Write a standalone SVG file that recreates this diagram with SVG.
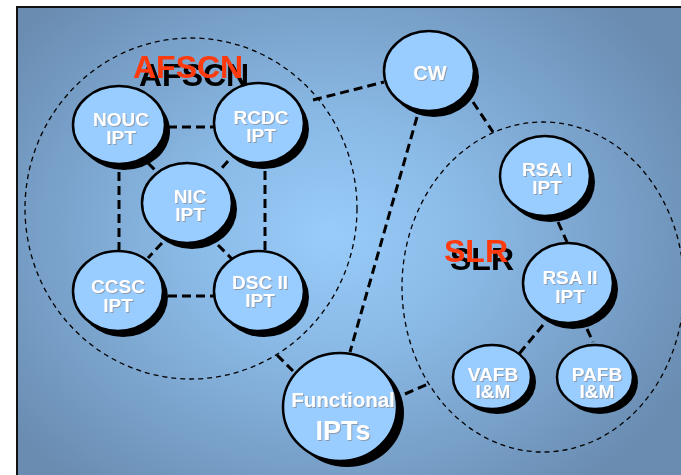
<svg xmlns="http://www.w3.org/2000/svg" width="681" height="475" viewBox="0 0 681 475">
<defs>
<radialGradient id="bg" gradientUnits="userSpaceOnUse" cx="330" cy="235" r="400" gradientTransform="translate(330 235) scale(1 0.8) translate(-330 -235)">
<stop offset="0" stop-color="#99ccfa"/>
<stop offset="0.4" stop-color="#88b7e3"/>
<stop offset="1" stop-color="#6a8cb1"/>
</radialGradient>
<filter id="tsh" x="-10%" y="-20%" width="130%" height="150%">
<feDropShadow dx="1" dy="1" stdDeviation="0" flood-color="#8a9bb0"/>
</filter>
<filter id="lsh" x="-10%" y="-20%" width="130%" height="160%">
<feDropShadow dx="6" dy="8" stdDeviation="0" flood-color="#000"/>
</filter>
<style>
.sh{fill:#000}
.nd{fill:#99ccff;stroke:#000;stroke-width:2.5}
.t{font-family:"Liberation Sans",Arial,sans-serif;font-weight:bold;font-size:19px;text-anchor:middle;fill:#fff;filter:url(#tsh)}
.big{fill:none;stroke:#000;stroke-width:1.3;stroke-dasharray:5,4}
.c{stroke:#000;stroke-width:3;stroke-dasharray:9,5;fill:none}
.lr{font-family:"Liberation Sans",Arial,sans-serif;font-weight:bold;font-size:32px;fill:#ff3a10;filter:url(#lsh)}
</style>
</defs>
<rect x="0" y="0" width="681" height="475" fill="#fff"/>
<rect x="17" y="7" width="700" height="500" fill="url(#bg)" stroke="#111" stroke-width="2"/>

<g id="groups">
<ellipse class="big" cx="191" cy="208.5" rx="166" ry="170.5"/>
<ellipse class="big" cx="543" cy="287" rx="141" ry="165"/>
</g>

<g id="labels">
<text class="lr" x="133" y="78">AFSCN</text>
<text class="lr" x="444" y="262">SLR</text>
</g>

<g id="connectors">
<line class="c" x1="168" y1="127" x2="213" y2="127"/>
<line class="c" x1="119" y1="172" x2="119" y2="251"/>
<line class="c" x1="265" y1="171" x2="265" y2="251"/>
<line class="c" x1="168" y1="296" x2="214" y2="296"/>
<line class="c" x1="148" y1="163" x2="158" y2="173"/>
<line class="c" x1="228" y1="161" x2="221" y2="169"/>
<line class="c" x1="162" y1="243" x2="148" y2="258"/>
<line class="c" x1="218" y1="245" x2="233" y2="260"/>
<line class="c" x1="313" y1="100" x2="384" y2="82"/>
<line class="c" x1="473" y1="102" x2="493" y2="132"/>
<line class="c" x1="417" y1="117" x2="350" y2="352"/>
<line class="c" x1="277" y1="355" x2="293" y2="371"/>
<line class="c" x1="405" y1="394" x2="428" y2="384"/>
<line class="c" x1="558" y1="222" x2="567" y2="242"/>
<line class="c" x1="543" y1="325" x2="519" y2="354"/>
<line class="c" x1="587" y1="329" x2="593" y2="342"/>
</g>

<g id="nouc">
<ellipse class="sh" cx="124" cy="131" rx="46" ry="39"/>
<ellipse class="nd" cx="119" cy="125" rx="46" ry="39"/>
<text class="t" x="121" y="126">NOUC<tspan x="121" dy="18">IPT</tspan></text>
</g>
<g id="rcdc">
<ellipse class="sh" cx="264" cy="129" rx="45" ry="40"/>
<ellipse class="nd" cx="259" cy="123" rx="45" ry="40"/>
<text class="t" x="261" y="124">RCDC<tspan x="261" dy="18">IPT</tspan></text>
</g>
<g id="nic">
<ellipse class="sh" cx="192" cy="209" rx="45" ry="40"/>
<ellipse class="nd" cx="187" cy="203" rx="45" ry="40"/>
<text class="t" x="190" y="203">NIC<tspan x="190" dy="18">IPT</tspan></text>
</g>
<g id="ccsc">
<ellipse class="sh" cx="123" cy="297" rx="45" ry="40"/>
<ellipse class="nd" cx="118" cy="291" rx="45" ry="40"/>
<text class="t" x="118" y="293">CCSC<tspan x="118" dy="19">IPT</tspan></text>
</g>
<g id="dsc">
<ellipse class="sh" cx="264" cy="297" rx="45" ry="40"/>
<ellipse class="nd" cx="259" cy="291" rx="45" ry="40"/>
<text class="t" x="260" y="289">DSC II<tspan x="260" dy="18">IPT</tspan></text>
</g>
<g id="cw">
<ellipse class="sh" cx="434" cy="77" rx="45" ry="40"/>
<ellipse class="nd" cx="429" cy="71" rx="45" ry="40"/>
<text class="t" x="430" y="80" style="font-size:20px">CW</text>
</g>
<g id="rsa1">
<ellipse class="sh" cx="550" cy="182" rx="45" ry="40"/>
<ellipse class="nd" cx="545" cy="176" rx="45" ry="40"/>
<text class="t" x="547" y="176">RSA I<tspan x="547" dy="18">IPT</tspan></text>
</g>
<g id="rsa2">
<ellipse class="sh" cx="573" cy="289" rx="45" ry="40"/>
<ellipse class="nd" cx="568" cy="283" rx="45" ry="40"/>
<text class="t" x="570" y="284">RSA II<tspan x="570" dy="19">IPT</tspan></text>
</g>
<g id="vafb">
<ellipse class="sh" cx="497" cy="382" rx="39" ry="32"/>
<ellipse class="nd" cx="492" cy="377" rx="39" ry="32"/>
<text class="t" x="493" y="381">VAFB<tspan x="493" dy="17">I&amp;M</tspan></text>
</g>
<g id="pafb">
<ellipse class="sh" cx="600" cy="382" rx="38" ry="32"/>
<ellipse class="nd" cx="595" cy="377" rx="38" ry="32"/>
<text class="t" x="597" y="381">PAFB<tspan x="597" dy="17">I&amp;M</tspan></text>
</g>
<g id="functional">
<ellipse class="sh" cx="347" cy="413" rx="57" ry="54"/>
<ellipse class="nd" cx="340" cy="407" rx="57" ry="54"/>
<text class="t" x="343" y="407" style="font-size:20.5px">Functional<tspan x="343" dy="33" style="font-size:27px">IPTs</tspan></text>
</g>
</svg>
